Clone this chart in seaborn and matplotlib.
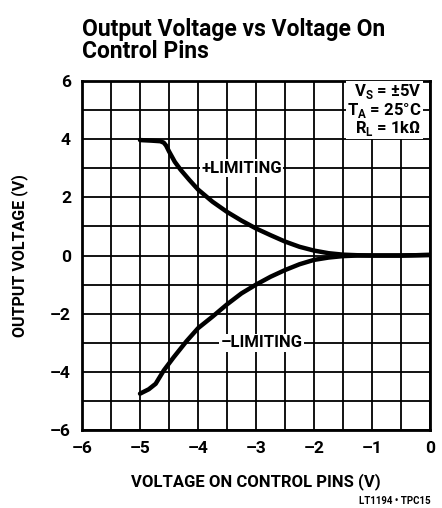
import matplotlib
matplotlib.use("Agg")
import matplotlib.pyplot as plt
import seaborn as sns
import numpy as np

# curves
x_plus = [-5.0, -4.8, -4.65, -4.59, -4.55, -4.5, -4.4, -4.3, -4.15, -4.0, -3.75, -3.5,
          -3.25, -3.0, -2.75, -2.5, -2.25, -2.0, -1.75, -1.5, -1.25, -1.0, -0.5, 0.0]
y_plus = [3.97, 3.95, 3.93, 3.88, 3.78, 3.58, 3.22, 2.95, 2.6, 2.27, 1.85, 1.5,
          1.2, 0.93, 0.7, 0.48, 0.3, 0.17, 0.08, 0.03, 0.01, 0.0, 0.0, 0.02]

x_minus = [-5.0, -4.85, -4.73, -4.59, -4.42, -4.2, -4.0, -3.75, -3.5, -3.25, -3.0,
           -2.75, -2.5, -2.25, -2.0, -1.75, -1.5, -1.25, -1.0, -0.5, 0.0]
y_minus = [-4.75, -4.6, -4.41, -3.95, -3.5, -2.95, -2.5, -2.1, -1.68, -1.3, -1.0,
           -0.73, -0.5, -0.3, -0.15, -0.07, -0.02, 0.0, 0.0, 0.0, 0.02]

x_ticks = [-6, -5, -4, -3, -2, -1, 0]
y_ticks = [-6, -4, -2, 0, 2, 4, 6]

sns.set_style("white")
plt.rcParams['font.family'] = ['Roboto', 'DejaVu Sans']
plt.rcParams['font.weight'] = 'bold'
plt.rcParams['text.color'] = 'black'
plt.rcParams['axes.labelcolor'] = 'black'
plt.rcParams['xtick.color'] = 'black'
plt.rcParams['ytick.color'] = 'black'
plt.rcParams['mathtext.fontset'] = 'custom'
plt.rcParams['mathtext.rm'] = 'Roboto:bold'
plt.rcParams['mathtext.bf'] = 'Roboto:bold'


def lab(v):
    return f"\u2013{abs(v)}" if v < 0 else str(v)


fig = plt.figure(figsize=(4.42, 5.08), dpi=100)
ax = fig.add_axes([0.1855, 0.1535, 0.7875, 0.687])

# grid: every 0.5 V in x, every 1 V in y
for gx in np.arange(-6, 0.01, 0.5):
    ax.axvline(gx, color='black', lw=1.3, zorder=1)
for gy in np.arange(-6, 6.01, 1):
    ax.axhline(gy, color='black', lw=1.3, zorder=1)

sns.lineplot(x=x_plus, y=y_plus, sort=False, color='black', lw=3.2, ax=ax, zorder=3)
sns.lineplot(x=x_minus, y=y_minus, sort=False, color='black', lw=3.2, ax=ax, zorder=3)

ax.set_xlim(-6, 0)
ax.set_ylim(-6, 6)
ax.set_xticks(x_ticks)
ax.set_yticks(y_ticks)
ax.set_xticklabels([lab(v) for v in x_ticks], fontsize=12.5, fontweight='bold')
ax.set_yticklabels([lab(v) for v in y_ticks], fontsize=12.5, fontweight='bold')
ax.tick_params(length=0, pad=8)
for s in ax.spines.values():
    s.set_linewidth(2)
    s.set_color('black')

ax.set_xlabel("VOLTAGE ON CONTROL PINS (V)", fontsize=12, fontweight='bold', labelpad=12)
ax.set_ylabel("OUTPUT VOLTAGE (V)", fontsize=11.5, fontweight='bold', labelpad=16)

box = dict(facecolor='white', edgecolor='none', pad=1)
ax.text(-0.15, 5.0, "V$_\\mathregular{S}$ = \u00b15V\nT$_\\mathregular{A}$ = 25\u00b0C\nR$_\\mathregular{L}$ = 1k\u03a9",
        ha='right', va='center', fontsize=12, fontweight='bold', linespacing=0.95,
        bbox=box, zorder=4)
ax.text(-3.25, 3.0, "+LIMITING", ha='center', va='center', fontsize=12,
        fontweight='bold', bbox=box, zorder=4)
ax.text(-2.9, -3.0, "\u2013LIMITING", ha='center', va='center', fontsize=12,
        fontweight='bold', bbox=box, zorder=4)

fig.text(0.1855, 0.921, "Output Voltage vs Voltage On\nControl Pins", ha='left', va='center',
         fontsize=16.5, fontweight='bold', linespacing=0.95)
fig.text(0.975, 0.004, "LT1194 \u2022 TPC15", ha='right', va='bottom', fontsize=7, fontweight='bold')

fig.savefig("out.png", dpi=100)
